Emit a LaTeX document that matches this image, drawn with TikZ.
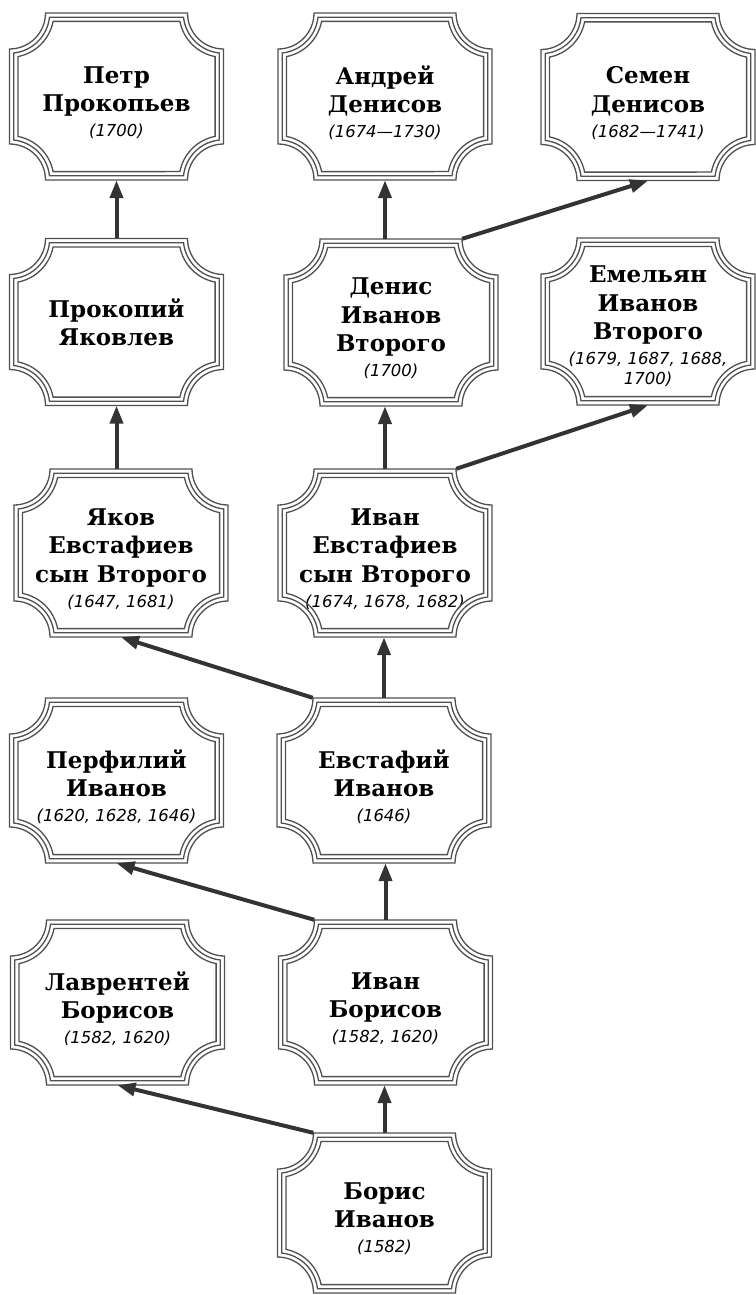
\documentclass[tikz,border=0pt]{standalone}
\usepackage{fontspec}
\setmainfont{DejaVu Serif}
\newfontfamily\datefont{DejaVu Sans}
\usetikzlibrary{arrows.meta,calc}
\definecolor{framegray}{HTML}{505050}
\definecolor{edgegray}{HTML}{333333}
\newcommand\pnamefont{\bfseries\fontsize{23}{28.3}\selectfont}
\newcommand\yrs[1]{{\datefont\mdseries\itshape\fontsize{16.5}{20}\selectfont #1}}
\tikzset{
  person/.style={minimum width=214pt, inner sep=0pt},
  ptext/.style={inner sep=0pt, align=center, font=\pnamefont, text=black},
  frameline/.style={draw=framegray, line width=1.3pt},
  rel/.style={draw=edgegray, line width=4pt, -{Triangle[length=18pt,width=13pt]}},
}
% #1 name, #2 cx, #3 cy, #4 half height, #5 text shift, #6 text
\newcommand\person[6]{%
  \node[person, minimum height=2*#4 pt] (#1) at (#2,#3) {};
  \node[ptext] (#1-t) at (#2,#3-#5) {#6};
  \foreach \d in {0,4.2,8.4}{%
    \pgfmathsetmacro\R{36+\d}%
    \pgfmathsetmacro\s{sqrt(\R*\R-\d*\d)}%
    \pgfmathsetmacro\a{asin(\d/\R)}%
    \pgfmathsetmacro\xa{#2-107}\pgfmathsetmacro\xb{#2+107}%
    \pgfmathsetmacro\ya{#3-#4}\pgfmathsetmacro\yb{#3+#4}%
    \draw[frameline] (\xb-\s,\yb-\d) arc[start angle=180+\a, end angle=270-\a, radius=\R]
      -- (\xb-\d,\ya+\s) arc[start angle=90+\a, end angle=180-\a, radius=\R]
      -- (\xa+\s,\ya+\d) arc[start angle=\a, end angle=90-\a, radius=\R]
      -- (\xa+\d,\yb-\s) arc[start angle=-90+\a, end angle=-\a, radius=\R] -- cycle;
  }%
}
\begin{document}
\begin{tikzpicture}[x=1pt,y=1pt]
\useasboundingbox (0,0) rectangle (755,-1295);
\person{petr}{116.5}{-96.5}{83.5}{6}{Петр\\Прокопьев\\[-3.3pt]\yrs{(1700)}}
\person{andrey}{385}{-96.5}{83.5}{6}{Андрей\\Денисов\\[-3.3pt]\yrs{(1674—1730)}}
\person{semen}{648}{-97}{83.5}{6}{Семен\\Денисов\\[-3.3pt]\yrs{(1682—1741)}}
\person{prokopiy}{116.5}{-322}{83.5}{0}{Прокопий\\Яковлев}
\person{denis}{391}{-322.5}{83.5}{6}{Денис\\Иванов\\Второго\\[-3.3pt]\yrs{(1700)}}
\person{emelyan}{648}{-321.5}{83.5}{5}{Емельян\\Иванов\\Второго\\[-3.3pt]\yrs{(1679, 1687, 1688,}\\[-8.3pt]\yrs{1700)}}
\person{yakov}{121}{-553}{84}{6}{Яков\\Евстафиев\\сын Второго\\[-3.3pt]\yrs{(1647, 1681)}}
\person{ivanE}{385}{-553}{84}{6}{Иван\\Евстафиев\\сын Второго\\[-3.3pt]\yrs{(1674, 1678, 1682)}}
\person{perfiliy}{116.5}{-780.5}{82.5}{6}{Перфилий\\Иванов\\[-3.3pt]\yrs{(1620, 1628, 1646)}}
\person{evstafiy}{384}{-780.5}{82.5}{6}{Евстафий\\Иванов\\[-3.3pt]\yrs{(1646)}}
\person{lavrentiy}{117.5}{-1002.5}{82.5}{6}{Лаврентей\\Борисов\\[-3.3pt]\yrs{(1582, 1620)}}
\person{ivanB}{385.5}{-1002.5}{82.5}{6}{Иван\\Борисов\\[-3.3pt]\yrs{(1582, 1620)}}
\person{boris}{384.5}{-1213}{80}{6}{Борис\\Иванов\\[-3.3pt]\yrs{(1582)}}
% connectors
\draw[rel] (prokopiy.north) -- (prokopiy.north |- petr.south);
\draw[rel] (prokopiy.south |- yakov.north) -- (prokopiy.south);
\draw[rel] (andrey.south |- denis.north) -- (andrey.south);
\draw[rel] ($(denis.north east)+(-36,0)$) -- (semen.south);
\draw[rel] (ivanE.north) -- (ivanE.north |- denis.south);
\draw[rel] ($(ivanE.north east)+(-36,0)$) -- (emelyan.south);
\draw[rel] ($(evstafiy.north west)+(36,0)$) -- (yakov.south);
\draw[rel] (evstafiy.north) -- (evstafiy.north |- ivanE.south);
\draw[rel] ($(ivanB.north west)+(36,0)$) -- (perfiliy.south);
\draw[rel] (ivanB.north) -- (ivanB.north |- evstafiy.south);
\draw[rel] ($(boris.north west)+(36,0)$) -- (lavrentiy.south);
\draw[rel] (boris.north) -- (boris.north |- ivanB.south);
\end{tikzpicture}
\end{document}
